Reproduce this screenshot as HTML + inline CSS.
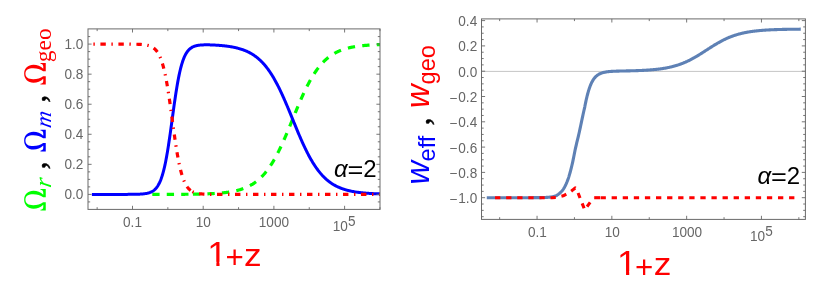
<!DOCTYPE html>
<html><head><meta charset="utf-8"><title>plot</title>
<style>
html,body{margin:0;padding:0;background:#fff;}
body{width:830px;height:299px;overflow:hidden;font-family:"Liberation Sans",sans-serif;}
svg{display:block;will-change:transform;}
.tk text{font-family:"Liberation Sans",sans-serif;font-size:13.6px;fill:#666;}
.fr{fill:none;stroke:#6a6a6a;stroke-width:1;}
.tl line{stroke:#686868;stroke-width:0.9;}
.sans{font-family:"Liberation Sans",sans-serif;}
.serif{font-family:"Liberation Serif",serif;}
</style></head><body>
<svg width="830" height="299" viewBox="0 0 830 299">
<rect width="830" height="299" fill="#fff"/>

<!-- LEFT PANEL -->
<clipPath id="cl"><rect x="88.0" y="28.9" width="292.0" height="180.5"/></clipPath>
<g fill="none" stroke-width="3.2" stroke-linejoin="round" clip-path="url(#cl)">
<path d="M152.30,194.40 L152.68,194.40 L153.06,194.40 L153.44,194.40 L153.82,194.40 L154.20,194.40 L154.58,194.40 L154.97,194.40 L155.35,194.40 L155.73,194.40 L156.11,194.40 L156.49,194.40 L156.87,194.40 L157.25,194.40 L157.63,194.40 L158.01,194.40 L158.39,194.40 L158.77,194.40 L159.15,194.40 L159.54,194.40 L159.92,194.40 L160.30,194.40 L160.68,194.40 L161.06,194.40 L161.44,194.40 L161.82,194.40 L162.20,194.40 L162.58,194.40 L162.96,194.40 L163.34,194.40 L163.72,194.39 L164.11,194.39 L164.49,194.39 L164.87,194.39 L165.25,194.39 L165.63,194.39 L166.01,194.39 L166.39,194.39 L166.77,194.39 L167.15,194.39 L167.53,194.39 L167.91,194.39 L168.29,194.39 L168.67,194.38 L169.06,194.38 L169.44,194.38 L169.82,194.38 L170.20,194.38 L170.58,194.38 L170.96,194.38 L171.34,194.37 L171.72,194.37 L172.10,194.37 L172.48,194.37 L172.86,194.37 L173.24,194.37 L173.63,194.36 L174.01,194.36 L174.39,194.36 L174.77,194.36 L175.15,194.35 L175.53,194.35 L175.91,194.35 L176.29,194.35 L176.67,194.34 L177.05,194.34 L177.43,194.34 L177.81,194.34 L178.19,194.33 L178.58,194.33 L178.96,194.33 L179.34,194.32 L179.72,194.32 L180.10,194.32 L180.48,194.32 L180.86,194.31 L181.24,194.31 L181.62,194.31 L182.00,194.30 L182.38,194.30 L182.76,194.30 L183.15,194.29 L183.53,194.29 L183.91,194.29 L184.29,194.28 L184.67,194.28 L185.05,194.27 L185.43,194.27 L185.81,194.27 L186.19,194.26 L186.57,194.26 L186.95,194.25 L187.33,194.25 L187.72,194.25 L188.10,194.24 L188.48,194.24 L188.86,194.23 L189.24,194.23 L189.62,194.22 L190.00,194.22" stroke="#00ff00" stroke-dasharray="7.3 7.15"/>
<path d="M192.90,194.18 L193.28,194.17 L193.65,194.17 L194.03,194.16 L194.40,194.15 L194.78,194.15 L195.16,194.14 L195.53,194.13 L195.91,194.13 L196.28,194.12 L196.66,194.11 L197.04,194.11 L197.41,194.10 L197.79,194.09 L198.16,194.08 L198.54,194.08 L198.92,194.07 L199.29,194.06 L199.67,194.05 L200.04,194.04 L200.42,194.03 L200.79,194.02 L201.17,194.01 L201.55,194.00 L201.92,193.99 L202.30,193.98 L202.67,193.97 L203.05,193.96 L203.43,193.95 L203.80,193.94 L204.18,193.93 L204.55,193.92 L204.93,193.91 L205.31,193.89 L205.68,193.88 L206.06,193.87 L206.43,193.86 L206.81,193.84 L207.19,193.83 L207.56,193.81 L207.94,193.80 L208.31,193.78 L208.69,193.77 L209.07,193.75 L209.44,193.74 L209.82,193.72 L210.19,193.70 L210.57,193.69 L210.95,193.67 L211.32,193.65 L211.70,193.63 L212.07,193.61 L212.45,193.59 L212.83,193.57 L213.20,193.55 L213.58,193.53 L213.95,193.51 L214.33,193.49 L214.71,193.47 L215.08,193.44 L215.46,193.42 L215.83,193.40 L216.21,193.37 L216.58,193.35 L216.96,193.32 L217.34,193.29 L217.71,193.27 L218.09,193.24 L218.46,193.21 L218.84,193.18 L219.22,193.15 L219.59,193.12 L219.97,193.09 L220.34,193.06 L220.72,193.02 L221.10,192.99 L221.47,192.96 L221.85,192.92 L222.22,192.88 L222.60,192.85 L222.98,192.81 L223.35,192.77 L223.73,192.73 L224.10,192.69 L224.48,192.65 L224.86,192.60 L225.23,192.56 L225.61,192.51 L225.98,192.47 L226.36,192.42 L226.74,192.37 L227.11,192.32 L227.49,192.27 L227.86,192.22 L228.24,192.17 L228.62,192.11 L228.99,192.06 L229.37,192.00 L229.74,191.94 L230.12,191.88 L230.50,191.82 L230.87,191.76 L231.25,191.69 L231.62,191.63 L232.00,191.56 L232.37,191.49 L232.75,191.42 L233.13,191.35 L233.50,191.27 L233.88,191.20 L234.25,191.12 L234.63,191.04 L235.01,190.96 L235.38,190.88 L235.76,190.79 L236.13,190.70 L236.51,190.61 L236.89,190.52 L237.26,190.43 L237.64,190.33 L238.01,190.24 L238.39,190.13 L238.77,190.03 L239.14,189.93 L239.52,189.82 L239.89,189.71 L240.27,189.60 L240.65,189.48 L241.02,189.36 L241.40,189.24 L241.77,189.12 L242.15,188.99 L242.53,188.86 L242.90,188.73 L243.28,188.60 L243.65,188.46 L244.03,188.32 L244.41,188.17 L244.78,188.03 L245.16,187.87 L245.53,187.72 L245.91,187.56 L246.29,187.40 L246.66,187.24 L247.04,187.07 L247.41,186.89 L247.79,186.72 L248.16,186.54 L248.54,186.35 L248.92,186.16 L249.29,185.97 L249.67,185.77 L250.04,185.57 L250.42,185.37 L250.80,185.16 L251.17,184.94 L251.55,184.72 L251.92,184.50 L252.30,184.27 L252.68,184.04 L253.05,183.80 L253.43,183.55 L253.80,183.30 L254.18,183.05 L254.56,182.79 L254.93,182.52 L255.31,182.25 L255.68,181.98 L256.06,181.70 L256.44,181.41 L256.81,181.11 L257.19,180.82 L257.56,180.51 L257.94,180.20 L258.32,179.88 L258.69,179.56 L259.07,179.22 L259.44,178.89 L259.82,178.54 L260.20,178.19 L260.57,177.83 L260.95,177.47 L261.32,177.10 L261.70,176.72 L262.08,176.33 L262.45,175.94 L262.83,175.54 L263.20,175.13 L263.58,174.72 L263.95,174.30 L264.33,173.87 L264.71,173.43 L265.08,172.98 L265.46,172.53 L265.83,172.07 L266.21,171.60 L266.59,171.12 L266.96,170.63 L267.34,170.14 L267.71,169.64 L268.09,169.13 L268.47,168.61 L268.84,168.08 L269.22,167.54 L269.59,167.00 L269.97,166.45 L270.35,165.89 L270.72,165.32 L271.10,164.74 L271.47,164.15 L271.85,163.55 L272.23,162.95 L272.60,162.34 L272.98,161.71 L273.35,161.08 L273.73,160.44 L274.11,159.80 L274.48,159.14 L274.86,158.47 L275.23,157.80 L275.61,157.12 L275.99,156.43 L276.36,155.73 L276.74,155.02 L277.11,154.30 L277.49,153.58 L277.87,152.85 L278.24,152.11 L278.62,151.36 L278.99,150.60 L279.37,149.84 L279.74,149.07 L280.12,148.29 L280.50,147.50 L280.87,146.71 L281.25,145.91 L281.62,145.10 L282.00,144.29 L282.38,143.46 L282.75,142.64 L283.13,141.80 L283.50,140.96 L283.88,140.12 L284.26,139.26 L284.63,138.41 L285.01,137.54 L285.38,136.67 L285.76,135.80 L286.14,134.92 L286.51,134.04 L286.89,133.16 L287.26,132.26 L287.64,131.37 L288.02,130.47 L288.39,129.57 L288.77,128.67 L289.14,127.76 L289.52,126.85 L289.90,125.94 L290.27,125.02 L290.65,124.11 L291.02,123.19 L291.40,122.27 L291.78,121.35 L292.15,120.43 L292.53,119.51 L292.90,118.59 L293.28,117.67 L293.66,116.76 L294.03,115.84 L294.41,114.92 L294.78,114.00 L295.16,113.09 L295.53,112.17 L295.91,111.26 L296.29,110.36 L296.66,109.45 L297.04,108.55 L297.41,107.65 L297.79,106.75 L298.17,105.86 L298.54,104.97 L298.92,104.08 L299.29,103.20 L299.67,102.33 L300.05,101.46 L300.42,100.59 L300.80,99.73 L301.17,98.87 L301.55,98.02 L301.93,97.18 L302.30,96.34 L302.68,95.51 L303.05,94.69 L303.43,93.87 L303.81,93.06 L304.18,92.25 L304.56,91.45 L304.93,90.66 L305.31,89.88 L305.69,89.10 L306.06,88.34 L306.44,87.57 L306.81,86.82 L307.19,86.08 L307.57,85.34 L307.94,84.61 L308.32,83.89 L308.69,83.18 L309.07,82.47 L309.45,81.78 L309.82,81.09 L310.20,80.41 L310.57,79.74 L310.95,79.08 L311.32,78.43 L311.70,77.78 L312.08,77.15 L312.45,76.52 L312.83,75.90 L313.20,75.29 L313.58,74.69 L313.96,74.10 L314.33,73.52 L314.71,72.94 L315.08,72.38 L315.46,71.82 L315.84,71.27 L316.21,70.73 L316.59,70.19 L316.96,69.67 L317.34,69.16 L317.72,68.65 L318.09,68.15 L318.47,67.66 L318.84,67.18 L319.22,66.70 L319.60,66.24 L319.97,65.78 L320.35,65.33 L320.72,64.88 L321.10,64.45 L321.48,64.02 L321.85,63.60 L322.23,63.19 L322.60,62.79 L322.98,62.39 L323.36,62.00 L323.73,61.62 L324.11,61.24 L324.48,60.87 L324.86,60.51 L325.24,60.16 L325.61,59.81 L325.99,59.47 L326.36,59.13 L326.74,58.81 L327.11,58.48 L327.49,58.17 L327.87,57.86 L328.24,57.56 L328.62,57.26 L328.99,56.97 L329.37,56.68 L329.75,56.40 L330.12,56.13 L330.50,55.86 L330.87,55.60 L331.25,55.34 L331.63,55.09 L332.00,54.84 L332.38,54.60 L332.75,54.36 L333.13,54.13 L333.51,53.91 L333.88,53.68 L334.26,53.47 L334.63,53.25 L335.01,53.05 L335.39,52.84 L335.76,52.64 L336.14,52.45 L336.51,52.26 L336.89,52.07 L337.27,51.89 L337.64,51.71 L338.02,51.53 L338.39,51.36 L338.77,51.19 L339.15,51.03 L339.52,50.87 L339.90,50.71 L340.27,50.56 L340.65,50.41 L341.03,50.26 L341.40,50.12 L341.78,49.98 L342.15,49.84 L342.53,49.71 L342.90,49.58 L343.28,49.45 L343.66,49.33 L344.03,49.21 L344.41,49.09 L344.78,48.97 L345.16,48.85 L345.54,48.74 L345.91,48.63 L346.29,48.53 L346.66,48.42 L347.04,48.32 L347.42,48.22 L347.79,48.13 L348.17,48.03 L348.54,47.94 L348.92,47.85 L349.30,47.76 L349.67,47.67 L350.05,47.59 L350.42,47.51 L350.80,47.43 L351.18,47.35 L351.55,47.27 L351.93,47.19 L352.30,47.12 L352.68,47.05 L353.06,46.98 L353.43,46.91 L353.81,46.84 L354.18,46.78 L354.56,46.72 L354.94,46.65 L355.31,46.59 L355.69,46.53 L356.06,46.48 L356.44,46.42 L356.82,46.36 L357.19,46.31 L357.57,46.26 L357.94,46.21 L358.32,46.16 L358.69,46.11 L359.07,46.06 L359.45,46.01 L359.82,45.97 L360.20,45.92 L360.57,45.88 L360.95,45.84 L361.33,45.79 L361.70,45.75 L362.08,45.71 L362.45,45.68 L362.83,45.64 L363.21,45.60 L363.58,45.56 L363.96,45.53 L364.33,45.50 L364.71,45.46 L365.09,45.43 L365.46,45.40 L365.84,45.37 L366.21,45.34 L366.59,45.31 L366.97,45.28 L367.34,45.25 L367.72,45.22 L368.09,45.19 L368.47,45.17 L368.85,45.14 L369.22,45.12 L369.60,45.09 L369.97,45.07 L370.35,45.05 L370.73,45.02 L371.10,45.00 L371.48,44.98 L371.85,44.96 L372.23,44.94 L372.61,44.92 L372.98,44.90 L373.36,44.88 L373.73,44.86 L374.11,44.84 L374.48,44.82 L374.86,44.81 L375.24,44.79 L375.61,44.77 L375.99,44.76 L376.36,44.74 L376.74,44.73 L377.12,44.71 L377.49,44.70 L377.87,44.68 L378.24,44.67 L378.62,44.65 L379.00,44.64 L379.37,44.63 L379.75,44.61 L380.12,44.60 L380.50,44.59" stroke="#00ff00" stroke-dasharray="7.3 7.24"/>
<path d="M93.40,194.40 L93.81,194.40 L94.22,194.40 L94.63,194.40 L95.04,194.40 L95.45,194.40 L95.86,194.40 L96.28,194.40 L96.69,194.40 L97.10,194.40 L97.51,194.40 L97.92,194.40 L98.33,194.40 L98.74,194.40 L99.15,194.40 L99.56,194.40 L99.97,194.40 L100.38,194.40 L100.79,194.40 L101.20,194.40 L101.61,194.40 L102.03,194.40 L102.44,194.40 L102.85,194.40 L103.26,194.40 L103.67,194.40 L104.08,194.40 L104.49,194.40 L104.90,194.40 L105.31,194.40 L105.72,194.40 L106.13,194.40 L106.54,194.40 L106.95,194.40 L107.36,194.40 L107.78,194.40 L108.19,194.40 L108.60,194.40 L109.01,194.40 L109.42,194.40 L109.83,194.40 L110.24,194.40 L110.65,194.40 L111.06,194.40 L111.47,194.40 L111.88,194.40 L112.29,194.40 L112.70,194.40 L113.12,194.40 L113.53,194.40 L113.94,194.40 L114.35,194.40 L114.76,194.40 L115.17,194.40 L115.58,194.40 L115.99,194.40 L116.40,194.40 L116.81,194.40 L117.22,194.40 L117.63,194.40 L118.04,194.40 L118.45,194.40 L118.87,194.40 L119.28,194.40 L119.69,194.39 L120.10,194.39 L120.51,194.39 L120.92,194.39 L121.33,194.39 L121.74,194.39 L122.15,194.39 L122.56,194.39 L122.97,194.39 L123.38,194.39 L123.79,194.39 L124.20,194.39 L124.62,194.39 L125.03,194.39 L125.44,194.38 L125.85,194.38 L126.26,194.38 L126.67,194.38 L127.08,194.38 L127.49,194.38 L127.90,194.37 L128.31,194.37 L128.72,194.37 L129.13,194.37 L129.54,194.36 L129.95,194.36 L130.37,194.36 L130.78,194.35 L131.19,194.35 L131.60,194.35 L132.01,194.34 L132.42,194.34 L132.83,194.33 L133.24,194.33 L133.65,194.32 L134.06,194.31 L134.47,194.31 L134.88,194.30 L135.29,194.29 L135.71,194.28 L136.12,194.27 L136.53,194.26 L136.94,194.25 L137.35,194.23 L137.76,194.22 L138.17,194.21 L138.58,194.19 L138.99,194.17 L139.40,194.15 L139.81,194.13 L140.22,194.11 L140.63,194.08 L141.04,194.06 L141.46,194.03 L141.87,194.00 L142.28,193.97 L142.69,193.93 L143.10,193.89 L143.51,193.85 L143.92,193.80 L144.33,193.75 L144.74,193.70 L145.15,193.64 L145.56,193.58 L145.97,193.51 L146.38,193.44 L146.79,193.36 L147.21,193.27 L147.62,193.17 L148.03,193.07 L148.44,192.96 L148.85,192.84 L149.26,192.72 L149.67,192.58 L150.08,192.43 L150.49,192.26 L150.90,192.09 L151.31,191.90 L151.72,191.69 L152.13,191.47 L152.55,191.23 L152.96,190.97 L153.37,190.69 L153.78,190.39 L154.19,190.07 L154.60,189.72 L155.01,189.34 L155.42,188.93 L155.83,188.49 L156.24,188.02 L156.65,187.51 L157.06,186.96 L157.47,186.37 L157.88,185.74 L158.30,185.06 L158.71,184.33 L159.12,183.55 L159.53,182.72 L159.94,181.82 L160.35,180.87 L160.76,179.85 L161.17,178.76 L161.58,177.59 L161.99,176.36 L162.40,175.04 L162.81,173.65 L163.22,172.17 L163.63,170.61 L164.05,168.96 L164.46,167.22 L164.87,165.38 L165.28,163.46 L165.69,161.44 L166.10,159.33 L166.51,157.12 L166.92,154.83 L167.33,152.45 L167.74,149.98 L168.15,147.43 L168.56,144.80 L168.97,142.09 L169.38,139.32 L169.80,136.50 L170.21,133.61 L170.62,130.69 L171.03,127.73 L171.44,124.74 L171.85,121.73 L172.26,118.72 L172.67,115.71 L173.08,112.71 L173.49,109.73 L173.90,106.78 L174.31,103.87 L174.72,101.01 L175.14,98.20 L175.55,95.46 L175.96,92.79 L176.37,90.19 L176.78,87.67 L177.19,85.23 L177.60,82.88 L178.01,80.62 L178.42,78.45 L178.83,76.38 L179.24,74.40 L179.65,72.51 L180.06,70.71 L180.47,69.01 L180.89,67.39 L181.30,65.86 L181.71,64.42 L182.12,63.06 L182.53,61.78 L182.94,60.57 L183.35,59.44 L183.76,58.38 L184.17,57.39 L184.58,56.46 L184.99,55.59 L185.40,54.78 L185.81,54.02 L186.22,53.32 L186.64,52.66 L187.05,52.05 L187.46,51.48 L187.87,50.95 L188.28,50.46 L188.69,50.01 L189.10,49.58 L189.51,49.19 L189.92,48.83 L190.33,48.49 L190.74,48.18 L191.15,47.90 L191.56,47.63 L191.98,47.38 L192.39,47.16 L192.80,46.95 L193.21,46.76 L193.62,46.58 L194.03,46.41 L194.44,46.26 L194.85,46.12 L195.26,45.99 L195.67,45.88 L196.08,45.77 L196.49,45.67 L196.90,45.58 L197.31,45.50 L197.73,45.42 L198.14,45.35 L198.55,45.29 L198.96,45.23 L199.37,45.18 L199.78,45.13 L200.19,45.09 L200.60,45.05 L201.01,45.02 L201.42,44.99 L201.83,44.96 L202.24,44.93 L202.65,44.91 L203.06,44.90 L203.48,44.88 L203.89,44.87 L204.30,44.86 L204.71,44.85 L205.12,44.84 L205.53,44.84 L205.94,44.83 L206.35,44.83 L206.76,44.83 L207.17,44.83 L207.58,44.84 L207.99,44.84 L208.40,44.85 L208.82,44.85 L209.23,44.86 L209.64,44.87 L210.05,44.88 L210.46,44.89 L210.87,44.90 L211.28,44.92 L211.69,44.93 L212.10,44.95 L212.51,44.97 L212.92,44.98 L213.33,45.00 L213.74,45.02 L214.15,45.04 L214.57,45.06 L214.98,45.08 L215.39,45.11 L215.80,45.13 L216.21,45.16 L216.62,45.18 L217.03,45.21 L217.44,45.23 L217.85,45.26 L218.26,45.29 L218.67,45.32 L219.08,45.35 L219.49,45.39 L219.90,45.42 L220.32,45.45 L220.73,45.49 L221.14,45.52 L221.55,45.56 L221.96,45.60 L222.37,45.64 L222.78,45.68 L223.19,45.72 L223.60,45.76 L224.01,45.81 L224.42,45.85 L224.83,45.90 L225.24,45.95 L225.65,46.00 L226.07,46.05 L226.48,46.10 L226.89,46.15 L227.30,46.20 L227.71,46.26 L228.12,46.32 L228.53,46.38 L228.94,46.44 L229.35,46.50 L229.76,46.56 L230.17,46.63 L230.58,46.70 L230.99,46.77 L231.41,46.84 L231.82,46.91 L232.23,46.98 L232.64,47.06 L233.05,47.14 L233.46,47.22 L233.87,47.30 L234.28,47.39 L234.69,47.47 L235.10,47.56 L235.51,47.65 L235.92,47.75 L236.33,47.84 L236.74,47.94 L237.16,48.04 L237.57,48.15 L237.98,48.26 L238.39,48.36 L238.80,48.48 L239.21,48.59 L239.62,48.71 L240.03,48.83 L240.44,48.96 L240.85,49.08 L241.26,49.21 L241.67,49.35 L242.08,49.48 L242.49,49.62 L242.91,49.77 L243.32,49.92 L243.73,50.07 L244.14,50.22 L244.55,50.38 L244.96,50.55 L245.37,50.71 L245.78,50.88 L246.19,51.06 L246.60,51.24 L247.01,51.42 L247.42,51.61 L247.83,51.80 L248.25,52.00 L248.66,52.21 L249.07,52.41 L249.48,52.63 L249.89,52.84 L250.30,53.07 L250.71,53.29 L251.12,53.53 L251.53,53.77 L251.94,54.01 L252.35,54.26 L252.76,54.52 L253.17,54.78 L253.58,55.05 L254.00,55.32 L254.41,55.61 L254.82,55.89 L255.23,56.19 L255.64,56.49 L256.05,56.80 L256.46,57.11 L256.87,57.43 L257.28,57.76 L257.69,58.10 L258.10,58.44 L258.51,58.79 L258.92,59.15 L259.33,59.51 L259.75,59.89 L260.16,60.27 L260.57,60.66 L260.98,61.06 L261.39,61.47 L261.80,61.88 L262.21,62.30 L262.62,62.74 L263.03,63.18 L263.44,63.63 L263.85,64.09 L264.26,64.56 L264.67,65.03 L265.08,65.52 L265.50,66.02 L265.91,66.52 L266.32,67.04 L266.73,67.56 L267.14,68.10 L267.55,68.64 L267.96,69.20 L268.37,69.76 L268.78,70.33 L269.19,70.92 L269.60,71.51 L270.01,72.12 L270.42,72.73 L270.84,73.36 L271.25,73.99 L271.66,74.64 L272.07,75.30 L272.48,75.96 L272.89,76.64 L273.30,77.33 L273.71,78.02 L274.12,78.73 L274.53,79.45 L274.94,80.18 L275.35,80.92 L275.76,81.67 L276.17,82.42 L276.59,83.19 L277.00,83.97 L277.41,84.76 L277.82,85.56 L278.23,86.37 L278.64,87.18 L279.05,88.01 L279.46,88.85 L279.87,89.69 L280.28,90.55 L280.69,91.41 L281.10,92.28 L281.51,93.16 L281.92,94.05 L282.34,94.95 L282.75,95.85 L283.16,96.76 L283.57,97.68 L283.98,98.61 L284.39,99.54 L284.80,100.48 L285.21,101.42 L285.62,102.38 L286.03,103.33 L286.44,104.30 L286.85,105.26 L287.26,106.24 L287.68,107.21 L288.09,108.20 L288.50,109.18 L288.91,110.17 L289.32,111.16 L289.73,112.16 L290.14,113.15 L290.55,114.15 L290.96,115.16 L291.37,116.16 L291.78,117.16 L292.19,118.17 L292.60,119.17 L293.01,120.18 L293.43,121.18 L293.84,122.19 L294.25,123.19 L294.66,124.19 L295.07,125.19 L295.48,126.19 L295.89,127.19 L296.30,128.18 L296.71,129.17 L297.12,130.15 L297.53,131.14 L297.94,132.11 L298.35,133.09 L298.76,134.06 L299.18,135.02 L299.59,135.98 L300.00,136.93 L300.41,137.88 L300.82,138.82 L301.23,139.75 L301.64,140.68 L302.05,141.60 L302.46,142.51 L302.87,143.42 L303.28,144.31 L303.69,145.20 L304.10,146.08 L304.52,146.96 L304.93,147.82 L305.34,148.68 L305.75,149.52 L306.16,150.36 L306.57,151.19 L306.98,152.01 L307.39,152.82 L307.80,153.62 L308.21,154.41 L308.62,155.19 L309.03,155.96 L309.44,156.72 L309.85,157.47 L310.27,158.21 L310.68,158.94 L311.09,159.66 L311.50,160.37 L311.91,161.07 L312.32,161.76 L312.73,162.43 L313.14,163.10 L313.55,163.76 L313.96,164.41 L314.37,165.05 L314.78,165.67 L315.19,166.29 L315.60,166.89 L316.02,167.49 L316.43,168.08 L316.84,168.65 L317.25,169.22 L317.66,169.77 L318.07,170.32 L318.48,170.86 L318.89,171.38 L319.30,171.90 L319.71,172.41 L320.12,172.90 L320.53,173.39 L320.94,173.87 L321.35,174.34 L321.77,174.80 L322.18,175.25 L322.59,175.70 L323.00,176.13 L323.41,176.55 L323.82,176.97 L324.23,177.38 L324.64,177.78 L325.05,178.17 L325.46,178.55 L325.87,178.93 L326.28,179.30 L326.69,179.66 L327.11,180.01 L327.52,180.35 L327.93,180.69 L328.34,181.02 L328.75,181.34 L329.16,181.66 L329.57,181.97 L329.98,182.27 L330.39,182.56 L330.80,182.85 L331.21,183.13 L331.62,183.41 L332.03,183.68 L332.44,183.94 L332.86,184.20 L333.27,184.45 L333.68,184.70 L334.09,184.94 L334.50,185.17 L334.91,185.40 L335.32,185.62 L335.73,185.84 L336.14,186.05 L336.55,186.26 L336.96,186.47 L337.37,186.67 L337.78,186.86 L338.19,187.05 L338.61,187.23 L339.02,187.41 L339.43,187.59 L339.84,187.76 L340.25,187.93 L340.66,188.09 L341.07,188.25 L341.48,188.41 L341.89,188.56 L342.30,188.71 L342.71,188.85 L343.12,188.99 L343.53,189.13 L343.95,189.27 L344.36,189.40 L344.77,189.53 L345.18,189.65 L345.59,189.77 L346.00,189.89 L346.41,190.01 L346.82,190.12 L347.23,190.23 L347.64,190.34 L348.05,190.44 L348.46,190.54 L348.87,190.64 L349.28,190.74 L349.70,190.83 L350.11,190.92 L350.52,191.01 L350.93,191.10 L351.34,191.19 L351.75,191.27 L352.16,191.35 L352.57,191.43 L352.98,191.51 L353.39,191.58 L353.80,191.65 L354.21,191.73 L354.62,191.80 L355.03,191.86 L355.45,191.93 L355.86,191.99 L356.27,192.06 L356.68,192.12 L357.09,192.18 L357.50,192.23 L357.91,192.29 L358.32,192.34 L358.73,192.40 L359.14,192.45 L359.55,192.50 L359.96,192.55 L360.37,192.60 L360.78,192.65 L361.20,192.69 L361.61,192.74 L362.02,192.78 L362.43,192.82 L362.84,192.86 L363.25,192.90 L363.66,192.94 L364.07,192.98 L364.48,193.02 L364.89,193.05 L365.30,193.09 L365.71,193.12 L366.12,193.16 L366.54,193.19 L366.95,193.22 L367.36,193.25 L367.77,193.28 L368.18,193.31 L368.59,193.34 L369.00,193.37 L369.41,193.39 L369.82,193.42 L370.23,193.45 L370.64,193.47 L371.05,193.50 L371.46,193.52 L371.87,193.54 L372.29,193.57 L372.70,193.59 L373.11,193.61 L373.52,193.63 L373.93,193.65 L374.34,193.67 L374.75,193.69 L375.16,193.71 L375.57,193.73 L375.98,193.74 L376.39,193.76 L376.80,193.78 L377.21,193.79 L377.62,193.81 L378.04,193.83 L378.45,193.84 L378.86,193.86 L379.27,193.87 L379.68,193.88 L380.09,193.90 L380.50,193.91" stroke="#0000ff" stroke-width="3.0" stroke-linecap="square"/>
<path d="M93.40,44.10 L93.65,44.10 L93.89,44.10 L94.14,44.10 L94.38,44.10 L94.63,44.10 L94.88,44.10 L95.12,44.10 L95.37,44.10 L95.62,44.10 L95.86,44.10 L96.11,44.10 L96.35,44.10 L96.60,44.10 L96.85,44.10 L97.09,44.10 L97.34,44.10 L97.58,44.10 L97.83,44.10 L98.08,44.10 L98.32,44.10 L98.57,44.10 L98.81,44.10 L99.06,44.10 L99.31,44.10 L99.55,44.10 L99.80,44.10 L100.05,44.10 L100.29,44.10 L100.54,44.10 L100.78,44.10 L101.03,44.10 L101.28,44.10 L101.52,44.10 L101.77,44.10 L102.01,44.10 L102.26,44.10 L102.51,44.10 L102.75,44.10 L103.00,44.10 L103.24,44.10 L103.49,44.10 L103.74,44.10 L103.98,44.10 L104.23,44.10 L104.48,44.10 L104.72,44.10 L104.97,44.10 L105.21,44.10 L105.46,44.10 L105.71,44.10 L105.95,44.10 L106.20,44.10 L106.44,44.10 L106.69,44.10 L106.94,44.10 L107.18,44.10 L107.43,44.10 L107.67,44.10 L107.92,44.10 L108.17,44.10 L108.41,44.10 L108.66,44.10 L108.91,44.10 L109.15,44.10 L109.40,44.10 L109.64,44.10 L109.89,44.10 L110.14,44.10 L110.38,44.10 L110.63,44.10 L110.87,44.10 L111.12,44.10 L111.37,44.10 L111.61,44.10 L111.86,44.10 L112.10,44.10 L112.35,44.10 L112.60,44.10 L112.84,44.10 L113.09,44.10 L113.34,44.10 L113.58,44.10 L113.83,44.10 L114.07,44.10 L114.32,44.10 L114.57,44.10 L114.81,44.10 L115.06,44.10 L115.30,44.10 L115.55,44.10 L115.80,44.10 L116.04,44.10 L116.29,44.10 L116.53,44.10 L116.78,44.10 L117.03,44.10 L117.27,44.10 L117.52,44.10 L117.77,44.10 L118.01,44.10 L118.26,44.10 L118.50,44.10 L118.75,44.10 L119.00,44.10 L119.24,44.10 L119.49,44.11 L119.73,44.11 L119.98,44.11 L120.23,44.11 L120.47,44.11 L120.72,44.11 L120.96,44.11 L121.21,44.11 L121.46,44.11 L121.70,44.11 L121.95,44.11 L122.20,44.11 L122.44,44.11 L122.69,44.11 L122.93,44.11 L123.18,44.11 L123.43,44.11 L123.67,44.11 L123.92,44.11 L124.16,44.11 L124.41,44.11 L124.66,44.11 L124.90,44.11 L125.15,44.12 L125.39,44.12 L125.64,44.12 L125.89,44.12 L126.13,44.12 L126.38,44.12 L126.63,44.12 L126.87,44.12 L127.12,44.12 L127.36,44.12 L127.61,44.12 L127.86,44.13 L128.10,44.13 L128.35,44.13 L128.59,44.13 L128.84,44.13 L129.09,44.13 L129.33,44.13 L129.58,44.14 L129.83,44.14 L130.07,44.14 L130.32,44.14 L130.56,44.14 L130.81,44.15 L131.06,44.15 L131.30,44.15 L131.55,44.15 L131.79,44.16 L132.04,44.16 L132.29,44.16 L132.53,44.16 L132.78,44.17 L133.02,44.17 L133.27,44.17 L133.52,44.18 L133.76,44.18 L134.01,44.19 L134.26,44.19 L134.50,44.20 L134.75,44.20 L134.99,44.20 L135.24,44.21 L135.49,44.22 L135.73,44.22 L135.98,44.23 L136.22,44.23 L136.47,44.24 L136.72,44.25 L136.96,44.25 L137.21,44.26 L137.45,44.27 L137.70,44.28 L137.95,44.29 L138.19,44.30 L138.44,44.31 L138.69,44.32 L138.93,44.33 L139.18,44.34 L139.42,44.35 L139.67,44.36 L139.92,44.37 L140.16,44.39 L140.41,44.40 L140.65,44.42 L140.90,44.43 L141.15,44.45 L141.39,44.47 L141.64,44.48 L141.88,44.50 L142.13,44.52 L142.38,44.54 L142.62,44.56 L142.87,44.59 L143.12,44.61 L143.36,44.64 L143.61,44.66 L143.85,44.69 L144.10,44.72 L144.35,44.75 L144.59,44.78 L144.84,44.81 L145.08,44.85 L145.33,44.89 L145.58,44.92 L145.82,44.97 L146.07,45.01 L146.31,45.05 L146.56,45.10 L146.81,45.15 L147.05,45.20 L147.30,45.25 L147.55,45.31 L147.79,45.37 L148.04,45.43 L148.28,45.49 L148.53,45.56 L148.78,45.63 L149.02,45.71 L149.27,45.79 L149.51,45.87 L149.76,45.96 L150.01,46.05 L150.25,46.14 L150.50,46.24 L150.74,46.34 L150.99,46.45 L151.24,46.57 L151.48,46.69 L151.73,46.81 L151.98,46.94 L152.22,47.08 L152.47,47.22 L152.71,47.37 L152.96,47.53 L153.21,47.70 L153.45,47.87 L153.70,48.05 L153.94,48.24 L154.19,48.44 L154.44,48.64 L154.68,48.86 L154.93,49.09 L155.17,49.32 L155.42,49.57 L155.67,49.83 L155.91,50.10 L156.16,50.39 L156.41,50.68 L156.65,50.99 L156.90,51.31 L157.14,51.65 L157.39,52.00 L157.64,52.37 L157.88,52.76 L158.13,53.16 L158.37,53.58 L158.62,54.01 L158.87,54.47 L159.11,54.94 L159.36,55.43 L159.61,55.95 L159.85,56.48 L160.10,57.04 L160.34,57.62 L160.59,58.23 L160.84,58.85 L161.08,59.51 L161.33,60.18 L161.57,60.89 L161.82,61.62 L162.07,62.38 L162.31,63.16 L162.56,63.98 L162.80,64.82 L163.05,65.70 L163.30,66.60 L163.54,67.54 L163.79,68.51 L164.04,69.50 L164.28,70.54 L164.53,71.60 L164.77,72.70 L165.02,73.83 L165.27,74.99 L165.51,76.19 L165.76,77.42 L166.00,78.68 L166.25,79.98 L166.50,81.31 L166.74,82.67 L166.99,84.07 L167.23,85.50 L167.48,86.95 L167.73,88.44 L167.97,89.96 L168.22,91.51 L168.47,93.08 L168.71,94.68 L168.96,96.31 L169.20,97.96 L169.45,99.63 L169.70,101.33 L169.94,103.04 L170.19,104.78 L170.43,106.52 L170.68,108.29 L170.93,110.06 L171.17,111.85 L171.42,113.64 L171.66,115.44 L171.91,117.24 L172.16,119.05 L172.40,120.86 L172.65,122.66 L172.90,124.46 L173.14,126.26 L173.39,128.05 L173.63,129.82 L173.88,131.59 L174.13,133.34 L174.37,135.08 L174.62,136.80 L174.86,138.49 L175.11,140.17 L175.36,141.83 L175.60,143.46 L175.85,145.07 L176.09,146.65 L176.34,148.20 L176.59,149.73 L176.83,151.22 L177.08,152.69 L177.33,154.12 L177.57,155.52 L177.82,156.89 L178.06,158.23 L178.31,159.54 L178.56,160.81 L178.80,162.04 L179.05,163.25 L179.29,164.42 L179.54,165.56 L179.79,166.66 L180.03,167.73 L180.28,168.77 L180.52,169.78 L180.77,170.75 L181.02,171.70 L181.26,172.61 L181.51,173.49 L181.76,174.34 L182.00,175.16 L182.25,175.95 L182.49,176.72 L182.74,177.46 L182.99,178.17 L183.23,178.85 L183.48,179.51 L183.72,180.14 L183.97,180.75 L184.22,181.33 L184.46,181.90 L184.71,182.44 L184.95,182.96 L185.20,183.46 L185.45,183.93 L185.69,184.39 L185.94,184.83 L186.19,185.25 L186.43,185.66 L186.68,186.05 L186.92,186.42 L187.17,186.77 L187.42,187.12 L187.66,187.44 L187.91,187.75 L188.15,188.05 L188.40,188.34 L188.65,188.61 L188.89,188.87 L189.14,189.13 L189.38,189.36 L189.63,189.59 L189.88,189.81 L190.12,190.02 L190.37,190.22 L190.62,190.41 L190.86,190.60 L191.11,190.77 L191.35,190.94 L191.60,191.10" stroke="#ff0000" stroke-dasharray="1.4 5.6 5.4 5.6"/>
<path d="M192.40,191.56 L193.03,191.89 L193.66,192.17 L194.29,192.43 L194.92,192.65 L195.55,192.85 L196.17,193.03 L196.80,193.19 L197.43,193.33 L198.06,193.45 L198.69,193.56 L199.32,193.66 L199.95,193.74 L200.58,193.82 L201.21,193.89 L201.84,193.94 L202.47,194.00 L203.09,194.04 L203.72,194.09 L204.35,194.12 L204.98,194.15 L205.61,194.18 L206.24,194.21 L206.87,194.23 L207.50,194.25 L208.13,194.27 L208.76,194.28 L209.39,194.30 L210.01,194.31 L210.64,194.32 L211.27,194.33 L211.90,194.34 L212.53,194.34 L213.16,194.35 L213.79,194.36 L214.42,194.36 L215.05,194.37 L215.68,194.37 L216.31,194.37 L216.93,194.38 L217.56,194.38 L218.19,194.38 L218.82,194.38 L219.45,194.39 L220.08,194.39 L220.71,194.39 L221.34,194.39 L221.97,194.39 L222.60,194.39 L223.23,194.39 L223.85,194.39 L224.48,194.39 L225.11,194.40 L225.74,194.40 L226.37,194.40 L227.00,194.40 L227.63,194.40 L228.26,194.40 L228.89,194.40 L229.52,194.40 L230.15,194.40 L230.77,194.40 L231.40,194.40 L232.03,194.40 L232.66,194.40 L233.29,194.40 L233.92,194.40 L234.55,194.40 L235.18,194.40 L235.81,194.40 L236.44,194.40 L237.07,194.40 L237.69,194.40 L238.32,194.40 L238.95,194.40 L239.58,194.40 L240.21,194.40 L240.84,194.40 L241.47,194.40 L242.10,194.40 L242.73,194.40 L243.36,194.40 L243.99,194.40 L244.62,194.40 L245.24,194.40 L245.87,194.40 L246.50,194.40 L247.13,194.40 L247.76,194.40 L248.39,194.40 L249.02,194.40 L249.65,194.40 L250.28,194.40 L250.91,194.40 L251.54,194.40 L252.16,194.40 L252.79,194.40 L253.42,194.40 L254.05,194.40 L254.68,194.40 L255.31,194.40 L255.94,194.40 L256.57,194.40 L257.20,194.40 L257.83,194.40 L258.46,194.40 L259.08,194.40 L259.71,194.40 L260.34,194.40 L260.97,194.40 L261.60,194.40 L262.23,194.40 L262.86,194.40 L263.49,194.40 L264.12,194.40 L264.75,194.40 L265.38,194.40 L266.00,194.40 L266.63,194.40 L267.26,194.40 L267.89,194.40 L268.52,194.40 L269.15,194.40 L269.78,194.40 L270.41,194.40 L271.04,194.40 L271.67,194.40 L272.30,194.40 L272.92,194.40 L273.55,194.40 L274.18,194.40 L274.81,194.40 L275.44,194.40 L276.07,194.40 L276.70,194.40 L277.33,194.40 L277.96,194.40 L278.59,194.40 L279.22,194.40 L279.84,194.40 L280.47,194.40 L281.10,194.40 L281.73,194.40 L282.36,194.40 L282.99,194.40 L283.62,194.40 L284.25,194.40 L284.88,194.40 L285.51,194.40 L286.14,194.40 L286.76,194.40 L287.39,194.40 L288.02,194.40 L288.65,194.40 L289.28,194.40 L289.91,194.40 L290.54,194.40 L291.17,194.40 L291.80,194.40 L292.43,194.40 L293.06,194.40 L293.68,194.40 L294.31,194.40 L294.94,194.40 L295.57,194.40 L296.20,194.40 L296.83,194.40 L297.46,194.40 L298.09,194.40 L298.72,194.40 L299.35,194.40 L299.98,194.40 L300.60,194.40 L301.23,194.40 L301.86,194.40 L302.49,194.40 L303.12,194.40 L303.75,194.40 L304.38,194.40 L305.01,194.40 L305.64,194.40 L306.27,194.40 L306.90,194.40 L307.52,194.40 L308.15,194.40 L308.78,194.40 L309.41,194.40 L310.04,194.40 L310.67,194.40 L311.30,194.40 L311.93,194.40 L312.56,194.40 L313.19,194.40 L313.82,194.40 L314.44,194.40 L315.07,194.40 L315.70,194.40 L316.33,194.40 L316.96,194.40 L317.59,194.40 L318.22,194.40 L318.85,194.40 L319.48,194.40 L320.11,194.40 L320.74,194.40 L321.36,194.40 L321.99,194.40 L322.62,194.40 L323.25,194.40 L323.88,194.40 L324.51,194.40 L325.14,194.40 L325.77,194.40 L326.40,194.40 L327.03,194.40 L327.66,194.40 L328.28,194.40 L328.91,194.40 L329.54,194.40 L330.17,194.40 L330.80,194.40 L331.43,194.40 L332.06,194.40 L332.69,194.40 L333.32,194.40 L333.95,194.40 L334.58,194.40 L335.21,194.40 L335.83,194.40 L336.46,194.40 L337.09,194.40 L337.72,194.40 L338.35,194.40 L338.98,194.40 L339.61,194.40 L340.24,194.40 L340.87,194.40 L341.50,194.40 L342.13,194.40 L342.75,194.40 L343.38,194.40 L344.01,194.40 L344.64,194.40 L345.27,194.40 L345.90,194.40 L346.53,194.40 L347.16,194.40 L347.79,194.40 L348.42,194.40 L349.05,194.40 L349.67,194.40 L350.30,194.40 L350.93,194.40 L351.56,194.40 L352.19,194.40 L352.82,194.40 L353.45,194.40 L354.08,194.40 L354.71,194.40 L355.34,194.40 L355.97,194.40 L356.59,194.40 L357.22,194.40 L357.85,194.40 L358.48,194.40 L359.11,194.40 L359.74,194.40 L360.37,194.40 L361.00,194.40 L361.63,194.40 L362.26,194.40 L362.89,194.40 L363.51,194.40 L364.14,194.40 L364.77,194.40 L365.40,194.40 L366.03,194.40 L366.66,194.40 L367.29,194.40 L367.92,194.40 L368.55,194.40 L369.18,194.40 L369.81,194.40 L370.43,194.40 L371.06,194.40 L371.69,194.40 L372.32,194.40 L372.95,194.40 L373.58,194.40 L374.21,194.40 L374.84,194.40 L375.47,194.40 L376.10,194.40 L376.73,194.40 L377.35,194.40 L377.98,194.40 L378.61,194.40 L379.24,194.40 L379.87,194.40 L380.50,194.40" stroke="#ff0000" stroke-dasharray="1.4 5.6 5.4 5.6"/>
</g>
<rect class="fr" x="88.0" y="28.9" width="292.0" height="180.5"/>
<g class="tl"><line x1="132.50" y1="209.40" x2="132.50" y2="205.80"/>
<line x1="132.50" y1="28.90" x2="132.50" y2="32.50"/>
<line x1="203.20" y1="209.40" x2="203.20" y2="205.80"/>
<line x1="203.20" y1="28.90" x2="203.20" y2="32.50"/>
<line x1="273.90" y1="209.40" x2="273.90" y2="205.80"/>
<line x1="273.90" y1="28.90" x2="273.90" y2="32.50"/>
<line x1="344.60" y1="209.40" x2="344.60" y2="205.80"/>
<line x1="344.60" y1="28.90" x2="344.60" y2="32.50"/>
<line x1="97.15" y1="209.40" x2="97.15" y2="207.20"/>
<line x1="97.15" y1="28.90" x2="97.15" y2="31.10"/>
<line x1="167.85" y1="209.40" x2="167.85" y2="207.20"/>
<line x1="167.85" y1="28.90" x2="167.85" y2="31.10"/>
<line x1="238.55" y1="209.40" x2="238.55" y2="207.20"/>
<line x1="238.55" y1="28.90" x2="238.55" y2="31.10"/>
<line x1="309.25" y1="209.40" x2="309.25" y2="207.20"/>
<line x1="309.25" y1="28.90" x2="309.25" y2="31.10"/>
<line x1="379.95" y1="209.40" x2="379.95" y2="207.20"/>
<line x1="379.95" y1="28.90" x2="379.95" y2="31.10"/>
<line x1="88.00" y1="194.40" x2="91.60" y2="194.40"/>
<line x1="380.00" y1="194.40" x2="376.40" y2="194.40"/>
<line x1="88.00" y1="164.34" x2="91.60" y2="164.34"/>
<line x1="380.00" y1="164.34" x2="376.40" y2="164.34"/>
<line x1="88.00" y1="134.28" x2="91.60" y2="134.28"/>
<line x1="380.00" y1="134.28" x2="376.40" y2="134.28"/>
<line x1="88.00" y1="104.22" x2="91.60" y2="104.22"/>
<line x1="380.00" y1="104.22" x2="376.40" y2="104.22"/>
<line x1="88.00" y1="74.16" x2="91.60" y2="74.16"/>
<line x1="380.00" y1="74.16" x2="376.40" y2="74.16"/>
<line x1="88.00" y1="44.10" x2="91.60" y2="44.10"/>
<line x1="380.00" y1="44.10" x2="376.40" y2="44.10"/>
<line x1="88.00" y1="201.92" x2="90.20" y2="201.92"/>
<line x1="380.00" y1="201.92" x2="377.80" y2="201.92"/>
<line x1="88.00" y1="186.88" x2="90.20" y2="186.88"/>
<line x1="380.00" y1="186.88" x2="377.80" y2="186.88"/>
<line x1="88.00" y1="179.37" x2="90.20" y2="179.37"/>
<line x1="380.00" y1="179.37" x2="377.80" y2="179.37"/>
<line x1="88.00" y1="171.86" x2="90.20" y2="171.86"/>
<line x1="380.00" y1="171.86" x2="377.80" y2="171.86"/>
<line x1="88.00" y1="156.82" x2="90.20" y2="156.82"/>
<line x1="380.00" y1="156.82" x2="377.80" y2="156.82"/>
<line x1="88.00" y1="149.31" x2="90.20" y2="149.31"/>
<line x1="380.00" y1="149.31" x2="377.80" y2="149.31"/>
<line x1="88.00" y1="141.80" x2="90.20" y2="141.80"/>
<line x1="380.00" y1="141.80" x2="377.80" y2="141.80"/>
<line x1="88.00" y1="126.76" x2="90.20" y2="126.76"/>
<line x1="380.00" y1="126.76" x2="377.80" y2="126.76"/>
<line x1="88.00" y1="119.25" x2="90.20" y2="119.25"/>
<line x1="380.00" y1="119.25" x2="377.80" y2="119.25"/>
<line x1="88.00" y1="111.73" x2="90.20" y2="111.73"/>
<line x1="380.00" y1="111.73" x2="377.80" y2="111.73"/>
<line x1="88.00" y1="96.70" x2="90.20" y2="96.70"/>
<line x1="380.00" y1="96.70" x2="377.80" y2="96.70"/>
<line x1="88.00" y1="89.19" x2="90.20" y2="89.19"/>
<line x1="380.00" y1="89.19" x2="377.80" y2="89.19"/>
<line x1="88.00" y1="81.67" x2="90.20" y2="81.67"/>
<line x1="380.00" y1="81.67" x2="377.80" y2="81.67"/>
<line x1="88.00" y1="66.64" x2="90.20" y2="66.64"/>
<line x1="380.00" y1="66.64" x2="377.80" y2="66.64"/>
<line x1="88.00" y1="59.13" x2="90.20" y2="59.13"/>
<line x1="380.00" y1="59.13" x2="377.80" y2="59.13"/>
<line x1="88.00" y1="51.61" x2="90.20" y2="51.61"/>
<line x1="380.00" y1="51.61" x2="377.80" y2="51.61"/>
<line x1="88.00" y1="36.58" x2="90.20" y2="36.58"/>
<line x1="380.00" y1="36.58" x2="377.80" y2="36.58"/></g>
<g class="tk"><text transform="translate(83.40,199.35) scale(1,1.1)" text-anchor="end">0.0</text>
<text transform="translate(83.40,169.29) scale(1,1.1)" text-anchor="end">0.2</text>
<text transform="translate(83.40,139.23) scale(1,1.1)" text-anchor="end">0.4</text>
<text transform="translate(83.40,109.17) scale(1,1.1)" text-anchor="end">0.6</text>
<text transform="translate(83.40,79.11) scale(1,1.1)" text-anchor="end">0.8</text>
<text transform="translate(83.40,49.05) scale(1,1.1)" text-anchor="end">1.0</text>
<text transform="translate(132.50,227.00) scale(1,1.1)" text-anchor="middle">0.1</text>
<text transform="translate(203.20,227.00) scale(1,1.1)" text-anchor="middle">10</text>
<text transform="translate(273.90,227.00) scale(1,1.1)" text-anchor="middle">1000</text>
<text transform="translate(340.30,231.00) scale(1,1.1)" text-anchor="middle">10</text>
<text transform="translate(348.00,226.00) scale(1,1.1)" text-anchor="start" font-size="11">5</text></g>
<g id="a2" class="sans" fill="#000" font-size="24">
<text x="334" y="176.7" font-style="italic">α</text>
<text transform="translate(347.4,178.2) scale(1.13,1)">=</text>
<text x="363.15" y="176.7">2</text>
</g>
<clipPath id="c1"><rect x="-1" y="-30" width="24" height="26.21"/><rect x="8.375" y="-4" width="2.940" height="5"/></clipPath>
<g id="opz" class="sans" fill="#ff0000">
<g transform="translate(207.3,265.75) scale(1.08,1.04)"><text x="0" y="0" font-size="33.3" clip-path="url(#c1)">1</text></g>
<text transform="translate(225.4,268.3)" font-size="31.3">+</text>
<text transform="translate(244.0,265.75) scale(1.06,0.94)" font-size="33.3">z</text>
</g>
<g transform="rotate(-90)" class="serif">
<path transform="translate(-210.55,45.75)" d="M 0.00,-0.00 L 0.00,-5.30 L 0.75,-5.30 C 0.95,-3.50 1.70,-2.50 3.60,-2.50 L 5.90,-2.50 C 3.40,-5.00 1.90,-8.60 1.90,-12.30 C 1.90,-17.80 5.60,-21.60 10.80,-21.60 C 16.00,-21.60 19.70,-17.80 19.70,-12.30 C 19.70,-8.60 18.20,-5.00 15.70,-2.50 L 18.00,-2.50 C 19.90,-2.50 20.65,-3.50 20.85,-5.30 L 21.60,-5.30 L 21.60,-0.00 L 13.20,-0.00 L 13.20,-2.60 C 15.30,-5.00 16.20,-8.60 16.20,-12.60 C 16.20,-17.40 14.40,-20.30 10.80,-20.30 C 7.20,-20.30 5.40,-17.40 5.40,-12.60 C 5.40,-8.60 6.30,-5.00 8.40,-2.60 L 8.40,-0.00 Z" fill="#00ff00"><title>Ω</title></path>
<text transform="translate(-188.30,50.90) skewX(-9)" font-size="24" fill="#00ff00" font-style="italic">r</text>
<text x="-169.50" y="45.00" font-size="32.5" fill="#000" stroke="#000" stroke-width="0.45">,</text>
<path transform="translate(-151.45,45.75)" d="M 0.00,-0.00 L 0.00,-5.30 L 0.75,-5.30 C 0.95,-3.50 1.70,-2.50 3.60,-2.50 L 5.90,-2.50 C 3.40,-5.00 1.90,-8.60 1.90,-12.30 C 1.90,-17.80 5.60,-21.60 10.80,-21.60 C 16.00,-21.60 19.70,-17.80 19.70,-12.30 C 19.70,-8.60 18.20,-5.00 15.70,-2.50 L 18.00,-2.50 C 19.90,-2.50 20.65,-3.50 20.85,-5.30 L 21.60,-5.30 L 21.60,-0.00 L 13.20,-0.00 L 13.20,-2.60 C 15.30,-5.00 16.20,-8.60 16.20,-12.60 C 16.20,-17.40 14.40,-20.30 10.80,-20.30 C 7.20,-20.30 5.40,-17.40 5.40,-12.60 C 5.40,-8.60 6.30,-5.00 8.40,-2.60 L 8.40,-0.00 Z" fill="#0000ff"><title>Ω</title></path>
<text transform="translate(-128.60,50.90) skewX(-10)" font-size="22.7" fill="#0000ff" font-style="italic">m</text>
<text x="-102.70" y="45.00" font-size="32.5" fill="#000" stroke="#000" stroke-width="0.45">,</text>
<path transform="translate(-84.55,45.75)" d="M 0.00,-0.00 L 0.00,-5.30 L 0.75,-5.30 C 0.95,-3.50 1.70,-2.50 3.60,-2.50 L 5.90,-2.50 C 3.40,-5.00 1.90,-8.60 1.90,-12.30 C 1.90,-17.80 5.60,-21.60 10.80,-21.60 C 16.00,-21.60 19.70,-17.80 19.70,-12.30 C 19.70,-8.60 18.20,-5.00 15.70,-2.50 L 18.00,-2.50 C 19.90,-2.50 20.65,-3.50 20.85,-5.30 L 21.60,-5.30 L 21.60,-0.00 L 13.20,-0.00 L 13.20,-2.60 C 15.30,-5.00 16.20,-8.60 16.20,-12.60 C 16.20,-17.40 14.40,-20.30 10.80,-20.30 C 7.20,-20.30 5.40,-17.40 5.40,-12.60 C 5.40,-8.60 6.30,-5.00 8.40,-2.60 L 8.40,-0.00 Z" fill="#ff0000"><title>Ω</title></path>
<text x="-62.30" y="50.90" font-size="23.5" fill="#ff0000">geo</text>
</g>

<!-- RIGHT PANEL -->
<line x1="481.5" y1="71.4" x2="805.4" y2="71.4" stroke="#9c9c9c" stroke-width="0.6"/>
<g fill="none" stroke-width="3.1" stroke-linejoin="round">
<path d="M488.32,197.70 L488.76,197.70 L489.21,197.70 L489.65,197.70 L490.10,197.70 L490.54,197.70 L490.99,197.70 L491.43,197.70 L491.88,197.70 L492.32,197.70 L492.77,197.70 L493.21,197.70 L493.66,197.70 L494.10,197.70 L494.54,197.70 L494.99,197.70 L495.43,197.70 L495.88,197.70 L496.32,197.70 L496.77,197.70 L497.21,197.70 L497.66,197.70 L498.10,197.70 L498.55,197.70 L498.99,197.70 L499.44,197.70 L499.88,197.70 L500.33,197.70 L500.77,197.70 L501.22,197.70 L501.66,197.70 L502.11,197.70 L502.55,197.70 L503.00,197.70 L503.44,197.70 L503.89,197.70 L504.33,197.70 L504.77,197.70 L505.22,197.70 L505.66,197.70 L506.11,197.70 L506.55,197.70 L507.00,197.70 L507.44,197.70 L507.89,197.70 L508.33,197.70 L508.78,197.70 L509.22,197.70 L509.67,197.70 L510.11,197.70 L510.56,197.70 L511.00,197.70 L511.45,197.70 L511.89,197.70 L512.34,197.70 L512.78,197.70 L513.23,197.70 L513.67,197.70 L514.12,197.70 L514.56,197.70 L515.01,197.70 L515.45,197.70 L515.89,197.70 L516.34,197.70 L516.78,197.70 L517.23,197.70 L517.67,197.70 L518.12,197.70 L518.56,197.70 L519.01,197.70 L519.45,197.70 L519.90,197.70 L520.34,197.70 L520.79,197.70 L521.23,197.70 L521.68,197.70 L522.12,197.70 L522.57,197.70 L523.01,197.70 L523.46,197.70 L523.90,197.70 L524.35,197.69 L524.79,197.69 L525.24,197.69 L525.68,197.69 L526.12,197.69 L526.57,197.69 L527.01,197.69 L527.46,197.69 L527.90,197.69 L528.35,197.69 L528.79,197.69 L529.24,197.69 L529.68,197.69 L530.13,197.68 L530.57,197.68 L531.02,197.68 L531.46,197.68 L531.91,197.68 L532.35,197.68 L532.80,197.68 L533.24,197.67 L533.69,197.67 L534.13,197.67 L534.58,197.67 L535.02,197.66 L535.47,197.66 L535.91,197.66 L536.35,197.65 L536.80,197.65 L537.24,197.64 L537.69,197.64 L538.13,197.63 L538.58,197.63 L539.02,197.62 L539.47,197.62 L539.91,197.61 L540.36,197.60 L540.80,197.59 L541.25,197.58 L541.69,197.57 L542.14,197.56 L542.58,197.55 L543.03,197.54 L543.47,197.52 L543.92,197.51 L544.36,197.49 L544.81,197.47 L545.25,197.45 L545.70,197.43 L546.14,197.41 L546.58,197.39 L547.03,197.36 L547.47,197.33 L547.92,197.30 L548.36,197.26 L548.81,197.23 L549.25,197.19 L549.70,197.14 L550.14,197.09 L550.59,197.04 L551.03,196.99 L551.48,196.93 L551.92,196.86 L552.37,196.77 L552.81,196.67 L553.26,196.56 L553.70,196.44 L554.15,196.32 L554.59,196.19 L555.04,196.05 L555.48,195.90 L555.93,195.74 L556.37,195.56 L556.82,195.32 L557.26,195.04 L557.70,194.75 L558.15,194.44 L558.59,194.12 L559.04,193.78 L559.48,193.42 L559.93,193.04 L560.37,192.63 L560.82,192.21 L561.26,191.76 L561.71,191.28 L562.15,190.78 L562.60,190.24 L563.04,189.67 L563.49,189.00 L563.93,188.25 L564.38,187.45 L564.82,186.62 L565.27,185.74 L565.71,184.82 L566.16,183.85 L566.60,182.83 L567.05,181.75 L567.49,180.62 L567.93,179.43 L568.38,178.19 L568.82,176.87 L569.27,175.41 L569.71,173.89 L570.16,172.29 L570.60,170.63 L571.05,168.90 L571.49,167.11 L571.94,165.24 L572.38,163.30 L572.83,161.29 L573.27,159.19 L573.72,157.03 L574.16,154.82 L574.61,152.54 L575.05,150.22 L575.50,148.21 L575.94,146.30 L576.39,144.33 L576.83,142.42 L577.28,140.72 L577.72,138.95 L578.16,137.10 L578.61,135.19 L579.05,133.23 L579.50,131.22 L579.94,129.17 L580.39,127.10 L580.83,125.00 L581.28,122.90 L581.72,120.79 L582.17,118.69 L582.61,116.60 L583.06,114.54 L583.50,112.51 L583.95,110.51 L584.39,108.55 L584.84,106.54 L585.28,104.27 L585.73,102.11 L586.17,100.05 L586.62,98.10 L587.06,96.25 L587.51,94.51 L587.95,92.86 L588.39,91.31 L588.84,89.86 L589.28,88.50 L589.73,87.22 L590.17,86.03 L590.62,84.92 L591.06,83.88 L591.51,82.92 L591.95,82.02 L592.40,81.18 L592.84,80.40 L593.29,79.68 L593.73,79.02 L594.18,78.43 L594.62,77.89 L595.07,77.38 L595.51,76.91 L595.96,76.47 L596.40,76.07 L596.85,75.69 L597.29,75.35 L597.74,75.02 L598.18,74.73 L598.63,74.45 L599.07,74.19 L599.51,73.96 L599.96,73.74 L600.40,73.53 L600.85,73.35 L601.29,73.17 L601.74,73.01 L602.18,72.87 L602.63,72.73 L603.07,72.60 L603.52,72.48 L603.96,72.38 L604.41,72.28 L604.85,72.18 L605.30,72.10 L605.74,72.02 L606.19,71.95 L606.63,71.88 L607.08,71.82 L607.52,71.76 L607.97,71.70 L608.41,71.65 L608.86,71.61 L609.30,71.56 L609.74,71.52 L610.19,71.49 L610.63,71.45 L611.08,71.42 L611.52,71.39 L611.97,71.36 L612.41,71.34 L612.86,71.31 L613.30,71.29 L613.75,71.27 L614.19,71.25 L614.64,71.23 L615.08,71.21 L615.53,71.19 L615.97,71.18 L616.42,71.16 L616.86,71.15 L617.31,71.13 L617.75,71.12 L618.20,71.11 L618.64,71.10 L619.09,71.08 L619.53,71.07 L619.97,71.06 L620.42,71.05 L620.86,71.04 L621.31,71.03 L621.75,71.02 L622.20,71.01 L622.64,71.00 L623.09,70.99 L623.53,70.98 L623.98,70.97 L624.42,70.96 L624.87,70.95 L625.31,70.94 L625.76,70.93 L626.20,70.92 L626.65,70.91 L627.09,70.90 L627.54,70.89 L627.98,70.88 L628.43,70.87 L628.87,70.86 L629.32,70.85 L629.76,70.84 L630.20,70.83 L630.65,70.82 L631.09,70.81 L631.54,70.79 L631.98,70.78 L632.43,70.77 L632.87,70.76 L633.32,70.74 L633.76,70.73 L634.21,70.72 L634.65,70.70 L635.10,70.69 L635.54,70.68 L635.99,70.66 L636.43,70.65 L636.88,70.63 L637.32,70.61 L637.77,70.60 L638.21,70.58 L638.66,70.56 L639.10,70.55 L639.55,70.53 L639.99,70.51 L640.43,70.49 L640.88,70.47 L641.32,70.45 L641.77,70.43 L642.21,70.41 L642.66,70.39 L643.10,70.37 L643.55,70.34 L643.99,70.32 L644.44,70.30 L644.88,70.27 L645.33,70.25 L645.77,70.22 L646.22,70.19 L646.66,70.17 L647.11,70.14 L647.55,70.11 L648.00,70.08 L648.44,70.05 L648.89,70.02 L649.33,69.99 L649.78,69.95 L650.22,69.92 L650.67,69.88 L651.11,69.85 L651.55,69.81 L652.00,69.78 L652.44,69.74 L652.89,69.70 L653.33,69.66 L653.78,69.62 L654.22,69.58 L654.67,69.53 L655.11,69.49 L655.56,69.44 L656.00,69.39 L656.45,69.35 L656.89,69.30 L657.34,69.25 L657.78,69.20 L658.23,69.14 L658.67,69.09 L659.12,69.03 L659.56,68.98 L660.01,68.92 L660.45,68.86 L660.90,68.80 L661.34,68.73 L661.78,68.67 L662.23,68.60 L662.67,68.54 L663.12,68.47 L663.56,68.40 L664.01,68.32 L664.45,68.25 L664.90,68.17 L665.34,68.10 L665.79,68.02 L666.23,67.93 L666.68,67.85 L667.12,67.76 L667.57,67.68 L668.01,67.59 L668.46,67.50 L668.90,67.40 L669.35,67.31 L669.79,67.21 L670.24,67.11 L670.68,67.01 L671.13,66.90 L671.57,66.80 L672.01,66.69 L672.46,66.58 L672.90,66.46 L673.35,66.34 L673.79,66.23 L674.24,66.10 L674.68,65.98 L675.13,65.85 L675.57,65.72 L676.02,65.59 L676.46,65.46 L676.91,65.32 L677.35,65.18 L677.80,65.04 L678.24,64.89 L678.69,64.75 L679.13,64.59 L679.58,64.44 L680.02,64.28 L680.47,64.12 L680.91,63.96 L681.36,63.79 L681.80,63.63 L682.24,63.45 L682.69,63.28 L683.13,63.10 L683.58,62.92 L684.02,62.74 L684.47,62.55 L684.91,62.36 L685.36,62.17 L685.80,61.97 L686.25,61.77 L686.69,61.57 L687.14,61.37 L687.58,61.16 L688.03,60.95 L688.47,60.73 L688.92,60.52 L689.36,60.30 L689.81,60.07 L690.25,59.85 L690.70,59.62 L691.14,59.39 L691.59,59.15 L692.03,58.92 L692.48,58.68 L692.92,58.44 L693.36,58.19 L693.81,57.94 L694.25,57.69 L694.70,57.44 L695.14,57.18 L695.59,56.93 L696.03,56.67 L696.48,56.41 L696.92,56.14 L697.37,55.88 L697.81,55.61 L698.26,55.34 L698.70,55.07 L699.15,54.79 L699.59,54.52 L700.04,54.24 L700.48,53.96 L700.93,53.68 L701.37,53.40 L701.82,53.12 L702.26,52.83 L702.71,52.55 L703.15,52.27 L703.59,51.98 L704.04,51.69 L704.48,51.41 L704.93,51.12 L705.37,50.83 L705.82,50.54 L706.26,50.25 L706.71,49.96 L707.15,49.67 L707.60,49.39 L708.04,49.10 L708.49,48.81 L708.93,48.52 L709.38,48.24 L709.82,47.95 L710.27,47.67 L710.71,47.38 L711.16,47.10 L711.60,46.82 L712.05,46.53 L712.49,46.25 L712.94,45.98 L713.38,45.70 L713.82,45.42 L714.27,45.15 L714.71,44.88 L715.16,44.61 L715.60,44.34 L716.05,44.08 L716.49,43.81 L716.94,43.55 L717.38,43.29 L717.83,43.03 L718.27,42.78 L718.72,42.53 L719.16,42.28 L719.61,42.03 L720.05,41.78 L720.50,41.54 L720.94,41.30 L721.39,41.06 L721.83,40.83 L722.28,40.60 L722.72,40.37 L723.17,40.15 L723.61,39.92 L724.05,39.70 L724.50,39.49 L724.94,39.27 L725.39,39.06 L725.83,38.85 L726.28,38.65 L726.72,38.45 L727.17,38.25 L727.61,38.05 L728.06,37.86 L728.50,37.67 L728.95,37.48 L729.39,37.30 L729.84,37.12 L730.28,36.94 L730.73,36.77 L731.17,36.60 L731.62,36.43 L732.06,36.26 L732.51,36.10 L732.95,35.94 L733.40,35.78 L733.84,35.63 L734.29,35.48 L734.73,35.33 L735.17,35.19 L735.62,35.04 L736.06,34.90 L736.51,34.77 L736.95,34.63 L737.40,34.50 L737.84,34.37 L738.29,34.24 L738.73,34.12 L739.18,34.00 L739.62,33.88 L740.07,33.76 L740.51,33.65 L740.96,33.54 L741.40,33.43 L741.85,33.32 L742.29,33.22 L742.74,33.12 L743.18,33.02 L743.63,32.92 L744.07,32.82 L744.52,32.73 L744.96,32.64 L745.40,32.55 L745.85,32.46 L746.29,32.38 L746.74,32.29 L747.18,32.21 L747.63,32.13 L748.07,32.06 L748.52,31.98 L748.96,31.91 L749.41,31.83 L749.85,31.76 L750.30,31.69 L750.74,31.63 L751.19,31.56 L751.63,31.50 L752.08,31.43 L752.52,31.37 L752.97,31.31 L753.41,31.25 L753.86,31.20 L754.30,31.14 L754.75,31.09 L755.19,31.03 L755.63,30.98 L756.08,30.93 L756.52,30.88 L756.97,30.84 L757.41,30.79 L757.86,30.74 L758.30,30.70 L758.75,30.66 L759.19,30.61 L759.64,30.57 L760.08,30.53 L760.53,30.49 L760.97,30.46 L761.42,30.42 L761.86,30.38 L762.31,30.35 L762.75,30.31 L763.20,30.28 L763.64,30.25 L764.09,30.21 L764.53,30.18 L764.98,30.15 L765.42,30.12 L765.86,30.09 L766.31,30.07 L766.75,30.04 L767.20,30.01 L767.64,29.99 L768.09,29.96 L768.53,29.94 L768.98,29.91 L769.42,29.89 L769.87,29.87 L770.31,29.85 L770.76,29.82 L771.20,29.80 L771.65,29.78 L772.09,29.76 L772.54,29.74 L772.98,29.72 L773.43,29.71 L773.87,29.69 L774.32,29.67 L774.76,29.65 L775.21,29.64 L775.65,29.62 L776.10,29.61 L776.54,29.59 L776.98,29.58 L777.43,29.56 L777.87,29.55 L778.32,29.53 L778.76,29.52 L779.21,29.51 L779.65,29.49 L780.10,29.48 L780.54,29.47 L780.99,29.46 L781.43,29.45 L781.88,29.44 L782.32,29.42 L782.77,29.41 L783.21,29.40 L783.66,29.39 L784.10,29.38 L784.55,29.38 L784.99,29.37 L785.44,29.36 L785.88,29.35 L786.33,29.34 L786.77,29.33 L787.21,29.32 L787.66,29.32 L788.10,29.31 L788.55,29.30 L788.99,29.29 L789.44,29.29 L789.88,29.28 L790.33,29.27 L790.77,29.27 L791.22,29.26 L791.66,29.25 L792.11,29.25 L792.55,29.24 L793.00,29.24 L793.44,29.23 L793.89,29.23 L794.33,29.22 L794.78,29.22 L795.22,29.21 L795.67,29.21 L796.11,29.20 L796.56,29.20 L797.00,29.19 L797.44,29.19 L797.89,29.18 L798.33,29.18 L798.78,29.18 L799.22,29.17" stroke="#5e81b5" stroke-linecap="square"/>
<path d="M495.05,197.70 L498.05,197.70 L501.05,197.70 L504.04,197.70 L507.04,197.70 L510.04,197.70 L513.04,197.70 L516.04,197.70 L519.03,197.70 L522.03,197.70 L525.03,197.70 L528.03,197.70 L531.02,197.70 L534.02,197.70 L537.02,197.70 L540.02,197.70 L543.02,197.70 L546.01,197.70 L549.01,197.70 L552.01,197.70 L556.50,197.45 L563.23,195.80 L568.84,192.89 L572.58,190.11 L575.20,187.96 L576.69,189.48 L584.74,209.97 L589.41,203.39 L593.71,197.70" stroke="#ff0000" stroke-dasharray="5.3 5.79"/>
<path d="M594.2,197.70 L600.0,197.70" stroke="#ff0000"/>
<path d="M600.55,197.70 L794.5,197.70" stroke="#ff0000" stroke-dasharray="5.3 5.79"/>
</g>
<rect class="fr" x="481.5" y="18.9" width="323.9" height="200.5"/>
<g class="tl"><line x1="537.05" y1="219.40" x2="537.05" y2="215.80"/>
<line x1="537.05" y1="18.90" x2="537.05" y2="22.50"/>
<line x1="611.85" y1="219.40" x2="611.85" y2="215.80"/>
<line x1="611.85" y1="18.90" x2="611.85" y2="22.50"/>
<line x1="686.65" y1="219.40" x2="686.65" y2="215.80"/>
<line x1="686.65" y1="18.90" x2="686.65" y2="22.50"/>
<line x1="761.45" y1="219.40" x2="761.45" y2="215.80"/>
<line x1="761.45" y1="18.90" x2="761.45" y2="22.50"/>
<line x1="499.65" y1="219.40" x2="499.65" y2="217.20"/>
<line x1="499.65" y1="18.90" x2="499.65" y2="21.10"/>
<line x1="574.45" y1="219.40" x2="574.45" y2="217.20"/>
<line x1="574.45" y1="18.90" x2="574.45" y2="21.10"/>
<line x1="649.25" y1="219.40" x2="649.25" y2="217.20"/>
<line x1="649.25" y1="18.90" x2="649.25" y2="21.10"/>
<line x1="724.05" y1="219.40" x2="724.05" y2="217.20"/>
<line x1="724.05" y1="18.90" x2="724.05" y2="21.10"/>
<line x1="798.85" y1="219.40" x2="798.85" y2="217.20"/>
<line x1="798.85" y1="18.90" x2="798.85" y2="21.10"/>
<line x1="481.50" y1="197.70" x2="485.10" y2="197.70"/>
<line x1="805.40" y1="197.70" x2="801.80" y2="197.70"/>
<line x1="481.50" y1="172.40" x2="485.10" y2="172.40"/>
<line x1="805.40" y1="172.40" x2="801.80" y2="172.40"/>
<line x1="481.50" y1="147.10" x2="485.10" y2="147.10"/>
<line x1="805.40" y1="147.10" x2="801.80" y2="147.10"/>
<line x1="481.50" y1="121.80" x2="485.10" y2="121.80"/>
<line x1="805.40" y1="121.80" x2="801.80" y2="121.80"/>
<line x1="481.50" y1="96.50" x2="485.10" y2="96.50"/>
<line x1="805.40" y1="96.50" x2="801.80" y2="96.50"/>
<line x1="481.50" y1="71.20" x2="485.10" y2="71.20"/>
<line x1="805.40" y1="71.20" x2="801.80" y2="71.20"/>
<line x1="481.50" y1="45.90" x2="485.10" y2="45.90"/>
<line x1="805.40" y1="45.90" x2="801.80" y2="45.90"/>
<line x1="481.50" y1="20.60" x2="485.10" y2="20.60"/>
<line x1="805.40" y1="20.60" x2="801.80" y2="20.60"/>
<line x1="481.50" y1="216.68" x2="483.70" y2="216.68"/>
<line x1="805.40" y1="216.68" x2="803.20" y2="216.68"/>
<line x1="481.50" y1="210.35" x2="483.70" y2="210.35"/>
<line x1="805.40" y1="210.35" x2="803.20" y2="210.35"/>
<line x1="481.50" y1="204.02" x2="483.70" y2="204.02"/>
<line x1="805.40" y1="204.02" x2="803.20" y2="204.02"/>
<line x1="481.50" y1="191.37" x2="483.70" y2="191.37"/>
<line x1="805.40" y1="191.37" x2="803.20" y2="191.37"/>
<line x1="481.50" y1="185.05" x2="483.70" y2="185.05"/>
<line x1="805.40" y1="185.05" x2="803.20" y2="185.05"/>
<line x1="481.50" y1="178.72" x2="483.70" y2="178.72"/>
<line x1="805.40" y1="178.72" x2="803.20" y2="178.72"/>
<line x1="481.50" y1="166.07" x2="483.70" y2="166.07"/>
<line x1="805.40" y1="166.07" x2="803.20" y2="166.07"/>
<line x1="481.50" y1="159.75" x2="483.70" y2="159.75"/>
<line x1="805.40" y1="159.75" x2="803.20" y2="159.75"/>
<line x1="481.50" y1="153.42" x2="483.70" y2="153.42"/>
<line x1="805.40" y1="153.42" x2="803.20" y2="153.42"/>
<line x1="481.50" y1="140.77" x2="483.70" y2="140.77"/>
<line x1="805.40" y1="140.77" x2="803.20" y2="140.77"/>
<line x1="481.50" y1="134.45" x2="483.70" y2="134.45"/>
<line x1="805.40" y1="134.45" x2="803.20" y2="134.45"/>
<line x1="481.50" y1="128.12" x2="483.70" y2="128.12"/>
<line x1="805.40" y1="128.12" x2="803.20" y2="128.12"/>
<line x1="481.50" y1="115.47" x2="483.70" y2="115.47"/>
<line x1="805.40" y1="115.47" x2="803.20" y2="115.47"/>
<line x1="481.50" y1="109.15" x2="483.70" y2="109.15"/>
<line x1="805.40" y1="109.15" x2="803.20" y2="109.15"/>
<line x1="481.50" y1="102.82" x2="483.70" y2="102.82"/>
<line x1="805.40" y1="102.82" x2="803.20" y2="102.82"/>
<line x1="481.50" y1="90.17" x2="483.70" y2="90.17"/>
<line x1="805.40" y1="90.17" x2="803.20" y2="90.17"/>
<line x1="481.50" y1="83.85" x2="483.70" y2="83.85"/>
<line x1="805.40" y1="83.85" x2="803.20" y2="83.85"/>
<line x1="481.50" y1="77.52" x2="483.70" y2="77.52"/>
<line x1="805.40" y1="77.52" x2="803.20" y2="77.52"/>
<line x1="481.50" y1="64.87" x2="483.70" y2="64.87"/>
<line x1="805.40" y1="64.87" x2="803.20" y2="64.87"/>
<line x1="481.50" y1="58.55" x2="483.70" y2="58.55"/>
<line x1="805.40" y1="58.55" x2="803.20" y2="58.55"/>
<line x1="481.50" y1="52.22" x2="483.70" y2="52.22"/>
<line x1="805.40" y1="52.22" x2="803.20" y2="52.22"/>
<line x1="481.50" y1="39.57" x2="483.70" y2="39.57"/>
<line x1="805.40" y1="39.57" x2="803.20" y2="39.57"/>
<line x1="481.50" y1="33.25" x2="483.70" y2="33.25"/>
<line x1="805.40" y1="33.25" x2="803.20" y2="33.25"/>
<line x1="481.50" y1="26.92" x2="483.70" y2="26.92"/>
<line x1="805.40" y1="26.92" x2="803.20" y2="26.92"/></g>
<g class="tk"><text transform="translate(477.20,203.10) scale(1,1.1)" text-anchor="end">1.0</text>
<text x="457.60" y="203.70" text-anchor="end" style="fill:#666">−</text>
<text transform="translate(477.20,177.80) scale(1,1.1)" text-anchor="end">0.8</text>
<text x="457.60" y="178.40" text-anchor="end" style="fill:#666">−</text>
<text transform="translate(477.20,152.50) scale(1,1.1)" text-anchor="end">0.6</text>
<text x="457.60" y="153.10" text-anchor="end" style="fill:#666">−</text>
<text transform="translate(477.20,127.20) scale(1,1.1)" text-anchor="end">0.4</text>
<text x="457.60" y="127.80" text-anchor="end" style="fill:#666">−</text>
<text transform="translate(477.20,101.90) scale(1,1.1)" text-anchor="end">0.2</text>
<text x="457.60" y="102.50" text-anchor="end" style="fill:#666">−</text>
<text transform="translate(477.20,76.60) scale(1,1.1)" text-anchor="end">0.0</text>
<text transform="translate(477.20,51.30) scale(1,1.1)" text-anchor="end">0.2</text>
<text transform="translate(477.20,26.00) scale(1,1.1)" text-anchor="end">0.4</text>
<text transform="translate(537.45,237.40) scale(1,1.1)" text-anchor="middle">0.1</text>
<text transform="translate(612.25,237.40) scale(1,1.1)" text-anchor="middle">10</text>
<text transform="translate(687.05,237.40) scale(1,1.1)" text-anchor="middle">1000</text>
<text transform="translate(757.55,241.40) scale(1,1.1)" text-anchor="middle">10</text>
<text transform="translate(765.25,236.40) scale(1,1.1)" text-anchor="start" font-size="11">5</text></g>
<use href="#a2" transform="translate(423.5,7.2)"/>
<use href="#opz" transform="translate(409.7,9.5)"/>
<g transform="rotate(-90)" class="sans">
<text x="-184.40" y="428.70" font-size="32.5" fill="#0000ff" font-style="italic">w</text>
<text x="-161.40" y="434.90" font-size="23.6" fill="#0000ff">eff</text>
<text x="-125.60" y="428.50" font-size="32.5" fill="#000" font-family="Liberation Serif, serif" stroke="#000" stroke-width="0.45">,</text>
<text x="-107.90" y="428.70" font-size="32.5" fill="#ff0000" font-style="italic">w</text>
<text x="-84.40" y="434.90" font-size="23.6" fill="#ff0000">geo</text>
</g>
</svg>
</body></html>
